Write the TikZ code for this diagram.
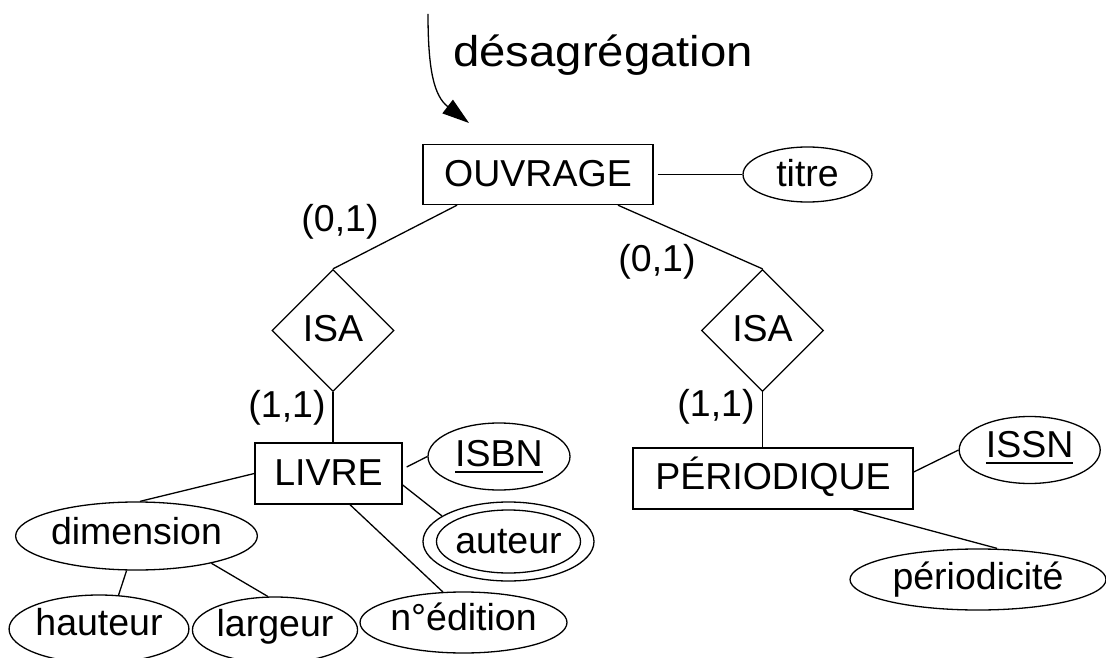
\documentclass[tikz,border=0pt]{standalone}
\usepackage{fontspec}
\setmainfont{Liberation Sans}
\newfontfamily\titlefont[FakeStretch=1.1]{Liberation Sans}
\usetikzlibrary{shapes.geometric,arrows.meta}
\newsavebox\ulbox
\newcommand{\keyul}[1]{\sbox\ulbox{#1}\rlap{\rule[-6pt]{\wd\ulbox}{2pt}}\usebox\ulbox}
\begin{document}
\begin{tikzpicture}[x=1pt,y=-1pt,
  every node/.style={inner sep=0pt, font=\fontsize{37.5}{42}\selectfont},
  ent/.style={draw, line width=1.4pt, rectangle, minimum height=60pt, text height=26.85pt, text depth=3pt},
  attr/.style={draw, line width=1.3pt, ellipse, text height=26.85pt, text depth=7pt},
  rel/.style={draw, line width=1.3pt, diamond, minimum width=122pt, minimum height=122pt, text height=26.85pt, text depth=4.45pt},
  conn/.style={line width=1.3pt},
  card/.style={}]
\useasboundingbox (0,0) rectangle (1106,658);
\clip (0,0) rectangle (1106,658);
\fill[white] (0,0) rectangle (1106,658);

% nodes
\node[ent, minimum width=230pt, text depth=2.45pt] (ouvrage) at (538,174.5) {OUVRAGE};
\node[attr, minimum width=129pt, minimum height=55pt, text depth=2.45pt] (titre) at (807.5,174.5) {titre};
\node[rel] (isaA) at (333,330.5) {ISA};
\node[rel] (isaB) at (762.5,330.5) {ISA};
\node[ent, minimum width=147pt, minimum height=61pt, text depth=3.85pt] (livre) at (328.5,473.5) {LIVRE};
\node[ent, minimum width=280pt, minimum height=61pt, text depth=5.25pt] (periodique) at (773,478.5) {PÉRIODIQUE};
\node[attr, minimum width=142pt, minimum height=67pt, text depth=6.85pt] (isbn) at (499,456.5) {\keyul{ISBN}};
\node[attr, minimum width=141pt, minimum height=67pt, text depth=11.45pt] (issn) at (1029.7,450) {\keyul{ISSN}};
\node[attr, minimum width=171pt, minimum height=79pt, text depth=3.25pt] (auteur) at (508.5,541.5) {auteur};
\draw[conn] (auteur.center) ellipse [x radius=72, y radius=31.5];
\node[attr, minimum width=177pt, minimum height=61pt, text depth=11.85pt] (nedition) at (463.5,622.5) {n°édition};
\node[attr, minimum width=211pt, minimum height=68pt, text depth=9.45pt] (dimension) at (136.5,536) {dimension};
\node[attr, minimum width=172pt, minimum height=68pt, text depth=14.85pt] (hauteur) at (99,629) {hauteur};
\node[attr, minimum width=156pt, minimum height=66pt, text depth=14.85pt] (largeur) at (275,630) {largeur};
\node[attr, minimum width=256pt, minimum height=61pt, text depth=7.25pt] (periodicite) at (978,579.5) {périodicité};

% cardinalities
\node[card] (cA1) at (340,222) {(0,1)};
\node[card] (cB1) at (657,262) {(0,1)};
\node[card] (cA2) at (287,408) {(1,1)};
\node[card] (cB2) at (716,407) {(1,1)};

% title and arrow
\node[anchor=base west, font=\titlefont\fontsize{43}{48}\selectfont] (desag) at (453,67) {désagrégation};
\coordinate (arrS) at (428,14);
\coordinate (arrE) at (469,123);
\draw[conn, -{Triangle[length=27pt,width=17pt]}] (arrS) .. controls (428,70) and (434,96) .. (arrE);

% connectors
\draw[conn] ([xshift=4pt]ouvrage.east) -- (titre.west);
\draw[conn] ([xshift=-81pt]ouvrage.south) -- (isaA.north);
\draw[conn] ([xshift=80pt]ouvrage.south) -- (isaB.north);
\draw[conn] (isaA.south) -- (isaA.south |- livre.north);
\draw[conn] (isaB.south) -- (isaB.south |- periodique.north);
\draw[conn] ([xshift=4pt,yshift=6.5pt]livre.east) -- (isbn.west);
\draw[conn] ([yshift=-11.5pt]livre.east) -- (auteur.159.5);
\draw[conn] ([xshift=21.5pt]livre.south) -- (nedition.124.6);
\draw[conn] (livre.west) -- ([xshift=3.5pt]dimension.north);
\draw[conn] (dimension.254.8) -- (hauteur.60.8);
\draw[conn] (dimension.-20.2) -- (largeur.102.9);
\draw[conn] ([yshift=6.5pt]periodique.east) -- (issn.west);
\draw[conn] ([xshift=80pt]periodique.south) -- ([xshift=19pt]periodicite.north);
\end{tikzpicture}
\end{document}
